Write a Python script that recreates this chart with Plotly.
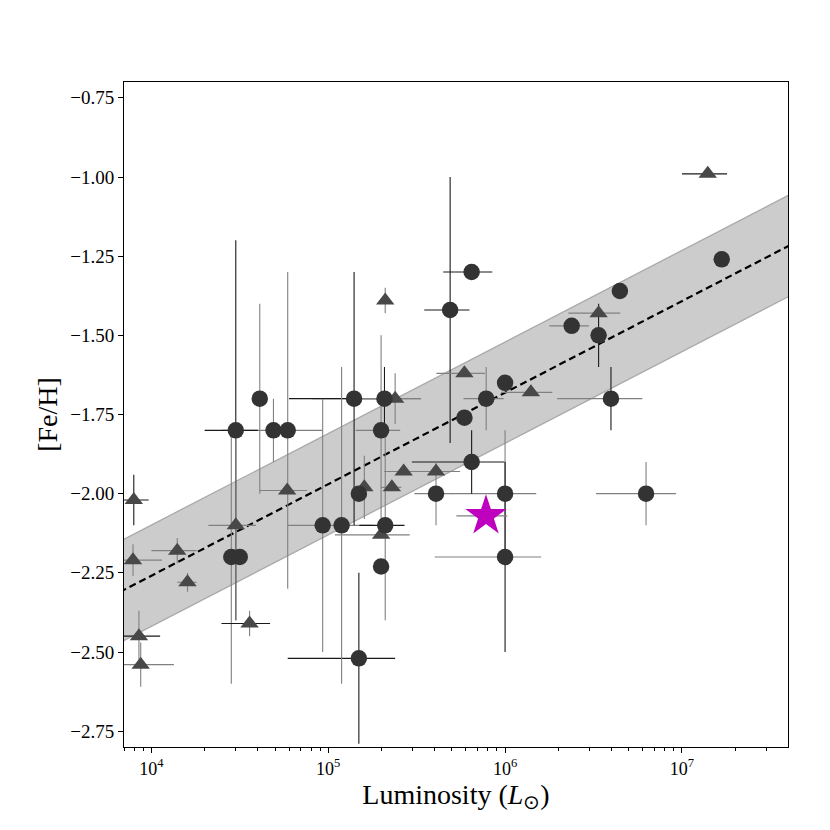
import numpy as np
import plotly.graph_objects as go

# ---------------- data ----------------
# circles: luminosity (Lsun), [Fe/H], x error, y error, error-bar source ('k' dark / 'g' grey)
circ_L = [2.83e4, 3.16e4, 3.0e4, 4.1e4, 4.9e4, 5.9e4, 9.3e4, 1.19e5, 1.40e5, 1.49e5,
          1.49e5, 1.99e5, 2.08e5, 2.10e5, 1.99e5, 4.07e5, 4.89e5, 6.47e5, 5.89e5, 7.82e5,
          1.0e6, 6.47e5, 1.0e6, 1.0e6, 2.38e6, 3.38e6, 4.46e6, 3.97e6, 6.27e6, 1.68e7]
circ_feh = [-2.20, -2.20, -1.80, -1.70, -1.80, -1.80, -2.10, -2.10, -1.70, -2.00,
            -2.52, -1.80, -1.70, -2.10, -2.23, -2.00, -1.42, -1.30, -1.76, -1.70,
            -1.65, -1.90, -2.00, -2.20, -1.47, -1.50, -1.36, -1.70, -2.00, -1.26]
circ_xerr = [0, 0, 1.0e4, 0, 0, 3.4e4, 0, 6e4, 8e4, 0,
             9e4, 5.6e4, 1.27e5, 6e4, 0, 1e5, 1.4e5, 2e5, 0, 2e5,
             0, 3.5e5, 5e5, 6e5, 6e5, 0, 0, 2e6, 3e6, 0]
circ_yerr = [0.4, 0, 0.6, 0.3, 0.1, 0.5, 0.4, 0.5, 0.4, 0,
             0.27, 0.3, 0.1, 0.3, 0, 0.1, 0.42, 0, 0, 0.1,
             0, 0.1, 0.2, 0.3, 0, 0.1, 0, 0.1, 0.1, 0]
circ_xsrc = ['g', 'g', 'k', 'g', 'g', 'g', 'g', 'g', 'k', 'g',
             'k', 'g', 'g', 'k', 'g', 'g', 'k', 'k', 'g', 'g',
             'g', 'k', 'g', 'g', 'g', 'g', 'g', 'g', 'g', 'g']
circ_ysrc = ['g', 'g', 'k', 'g', 'g', 'g', 'g', 'g', 'k', 'g',
             'k', 'g', 'k', 'g', 'g', 'g', 'k', 'g', 'g', 'g',
             'g', 'k', 'g', 'k', 'g', 'k', 'g', 'k', 'g', 'g']

# triangles
tri_L = [7.95e3, 7.87e3, 1.4e4, 1.6e4, 8.5e3, 8.7e3, 3.59e4, 3.0e4, 5.86e4, 2.1e5,
         2.39e5, 1.6e5, 2.29e5, 2.67e5, 4.07e5, 1.99e5, 5.89e5, 1.4e6, 3.38e6, 1.4e7]
tri_feh = [-2.02, -2.21, -2.18, -2.28, -2.45, -2.54, -2.41, -2.10, -1.99, -1.39,
           -1.70, -1.98, -1.98, -1.93, -1.93, -2.13, -1.62, -1.68, -1.43, -0.99]
tri_xerr = [1.7e3, 3.6e3, 4e3, 2e3, 2.7e3, 4.7e3, 1.1e4, 0.9e4, 1.75e4, 1.5e4,
            0.95e5, 0, 0.3e5, 0.6e5, 1.5e5, 0.9e5, 1.8e5, 0.45e6, 1.1e6, 4e6]
tri_yerr = [0.08, 0.05, 0.04, 0.03, 0.08, 0.07, 0.04, 0.3, 0, 0.04,
            0.08, 0.1, 0, 0, 0, 0, 0, 0, 0, 0]
tri_xsrc = ['k', 'g', 'g', 'g', 'k', 'g', 'k', 'g', 'g', 'g',
            'g', 'g', 'g', 'g', 'g', 'g', 'g', 'g', 'g', 'k']
tri_ysrc = ['k', 'g', 'g', 'g', 'g', 'g', 'g', 'g', 'g', 'g',
            'g', 'g', 'g', 'g', 'g', 'g', 'g', 'g', 'g', 'g']

# highlighted object (star)
star_L = [7.8e5]
star_feh = [-2.07]
star_xerr = [2.5e5]

# linear fit [Fe/H] = slope*log10(L) + intercept, with scatter band
fit_slope = 0.289
fit_intercept = -3.415
fit_sigma = 0.16

x_ticks = [1e4, 1e5, 1e6, 1e7]
x_ticktext = ["10<sup>4</sup>", "10<sup>5</sup>", "10<sup>6</sup>", "10<sup>7</sup>"]
y_ticks = [-2.75, -2.50, -2.25, -2.00, -1.75, -1.50, -1.25, -1.00, -0.75]

# ---------------- figure ----------------
ERRCOL = {'k': '#1a1a1a', 'g': '#808080'}
fig = go.Figure()

xs = np.logspace(3.6, 7.9, 60)
yfit = fit_slope * np.log10(xs) + fit_intercept
fig.add_trace(go.Scatter(x=xs, y=yfit - fit_sigma, mode='lines',
                         line=dict(color='#a9a9a9', width=1.3), showlegend=False, hoverinfo='skip'))
fig.add_trace(go.Scatter(x=xs, y=yfit + fit_sigma, mode='lines', fill='tonexty',
                         fillcolor='#cccccc', line=dict(color='#a9a9a9', width=1.3),
                         showlegend=False, hoverinfo='skip'))
fig.add_trace(go.Scatter(x=xs, y=yfit, mode='lines',
                         line=dict(color='black', width=2.2, dash='7px,4px'),
                         showlegend=False, hoverinfo='skip'))


def add_errors(L, feh, err, src, axis):
    for key in ('g', 'k'):
        idx = [i for i in range(len(L)) if err[i] > 0 and src[i] == key]
        if not idx:
            continue
        ed = dict(type='data', array=[err[i] for i in idx], color=ERRCOL[key],
                  thickness=1.1, width=0, visible=True)
        kw = {'error_x': ed} if axis == 'x' else {'error_y': ed}
        fig.add_trace(go.Scatter(x=[L[i] for i in idx], y=[feh[i] for i in idx],
                                 mode='markers', marker=dict(size=1, opacity=0),
                                 showlegend=False, hoverinfo='skip', **kw))


add_errors(circ_L, circ_feh, circ_xerr, circ_xsrc, 'x')
add_errors(circ_L, circ_feh, circ_yerr, circ_ysrc, 'y')
add_errors(tri_L, tri_feh, tri_xerr, tri_xsrc, 'x')
add_errors(tri_L, tri_feh, tri_yerr, tri_ysrc, 'y')
add_errors(star_L, star_feh, star_xerr, ['g'], 'x')

fig.add_trace(go.Scatter(x=tri_L, y=tri_feh, mode='markers',
                         marker=dict(symbol='triangle-up', size=16, color='#484848', line=dict(width=0)),
                         showlegend=False))
fig.add_trace(go.Scatter(x=circ_L, y=circ_feh, mode='markers',
                         marker=dict(symbol='circle', size=16.5, color='#333333', line=dict(width=0)),
                         showlegend=False))
fig.add_trace(go.Scatter(x=star_L, y=star_feh, mode='markers',
                         marker=dict(symbol='star', size=31, color='#bf00bf', line=dict(width=0)),
                         showlegend=False))

minor_vals = [m * 10.0 ** e for e in range(3, 8) for m in range(2, 10)]

SERIF = 'Liberation Serif, Times New Roman, serif'
tick_font = dict(family=SERIF, size=19, color='black')
title_font = dict(family=SERIF, size=28, color='black')
fig.update_layout(
    width=830, height=830,
    margin=dict(l=116, r=50, t=74, b=91),
    paper_bgcolor='white', plot_bgcolor='white',
    font=tick_font,
    xaxis=dict(type='log', range=[3.845, 7.60], tickmode='array', tickvals=x_ticks, ticktext=x_ticktext,
               ticks='outside', ticklen=5, tickwidth=1, tickcolor='black',
               showline=True, linecolor='black', linewidth=1, mirror=True,
               showgrid=False, zeroline=False, tickfont=dict(family=SERIF, size=18, color='black'),
               minor=dict(tickmode='array', tickvals=minor_vals, ticks='outside', ticklen=3,
                          tickwidth=0.8, tickcolor='black', showgrid=False),
               title=dict(text="Luminosity (<i>L</i><sub>⊙</sub>)", font=title_font, standoff=4)),
    yaxis=dict(range=[-2.8, -0.7], tickmode='array', tickvals=y_ticks, tickformat='.2f',
               ticks='outside', ticklen=5, tickwidth=1, tickcolor='black',
               showline=True, linecolor='black', linewidth=1, mirror=True,
               showgrid=False, zeroline=False, tickfont=tick_font,
               title=dict(text="[Fe/H]", font=title_font, standoff=4)),
)

fig.write_html("out.html")
